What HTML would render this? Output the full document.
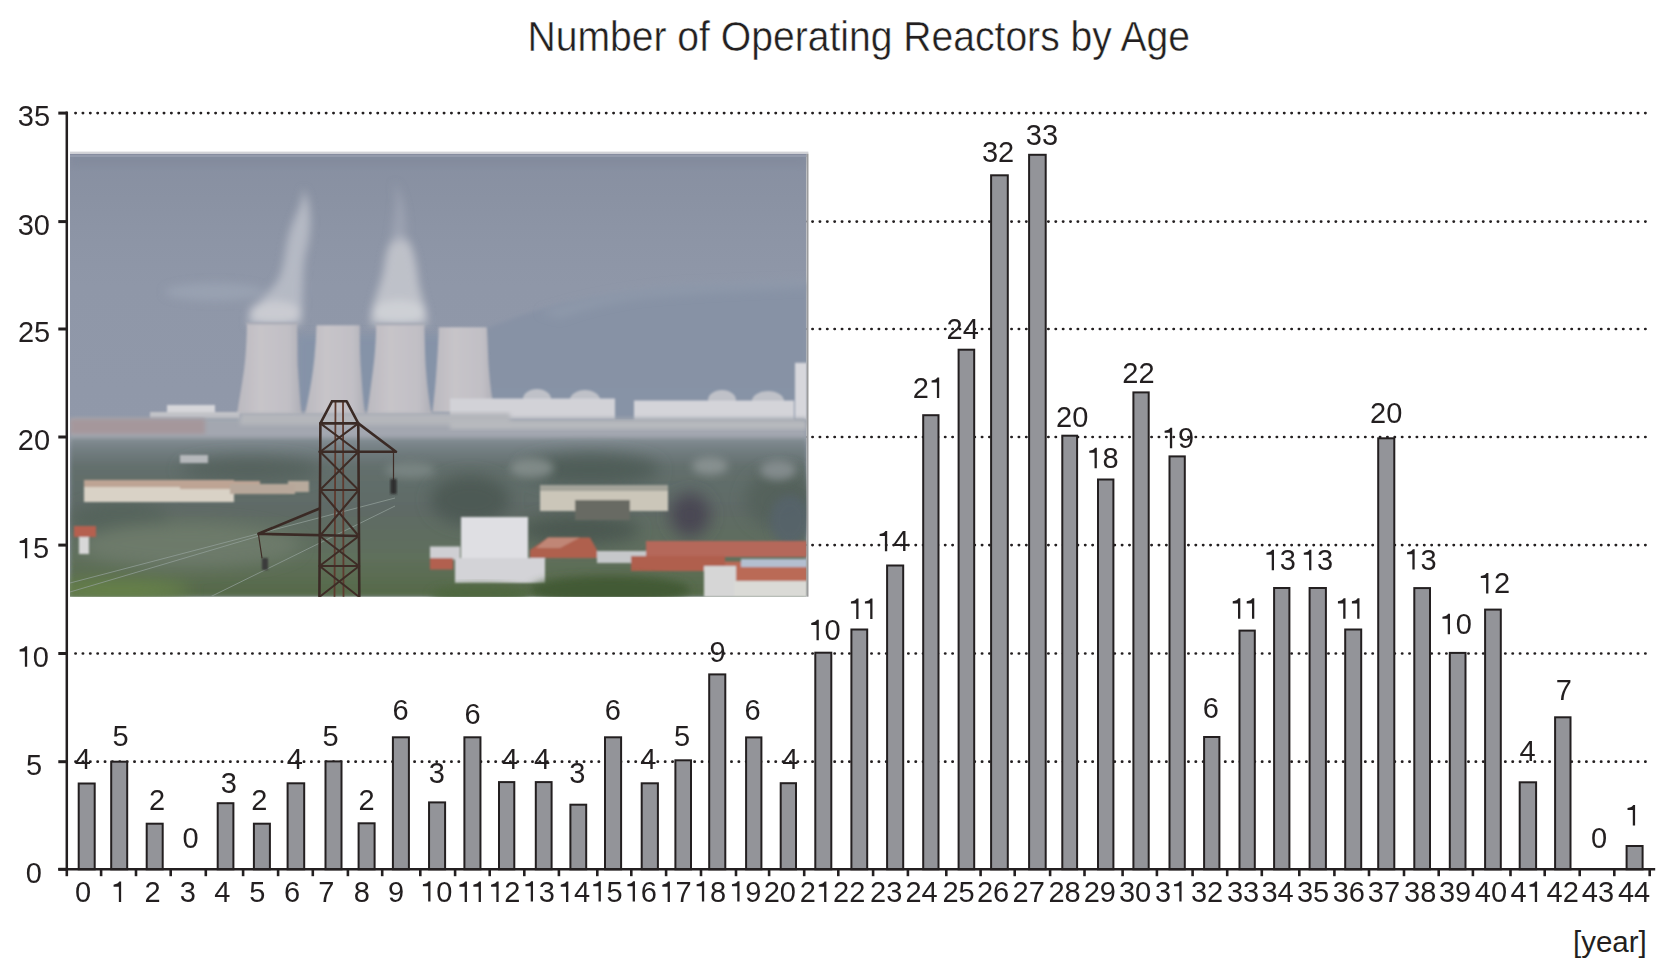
<!DOCTYPE html>
<html><head><meta charset="utf-8"><style>
html,body{margin:0;padding:0;background:#fff;width:1662px;height:961px;overflow:hidden}
svg{position:absolute;left:0;top:0;display:block}
text{font-family:"Liberation Sans",sans-serif;fill:#231f20}
</style></head><body>
<svg width="1662" height="961" viewBox="0 0 1662 961">
<text x="0" y="0" font-size="42" transform="translate(527.5 51.2) scale(0.9307 1)" stroke="#fff" stroke-width="0.45">Number of Operating Reactors by Age</text>
<line x1="75.45" y1="113.1" x2="1647" y2="113.1" stroke="#231f20" stroke-width="2.7" stroke-linecap="round" stroke-dasharray="0.25 7.12"/>
<line x1="75.45" y1="221.6" x2="1647" y2="221.6" stroke="#231f20" stroke-width="2.7" stroke-linecap="round" stroke-dasharray="0.25 7.12"/>
<line x1="75.45" y1="329.0" x2="1647" y2="329.0" stroke="#231f20" stroke-width="2.7" stroke-linecap="round" stroke-dasharray="0.25 7.12"/>
<line x1="75.45" y1="437.0" x2="1647" y2="437.0" stroke="#231f20" stroke-width="2.7" stroke-linecap="round" stroke-dasharray="0.25 7.12"/>
<line x1="75.45" y1="545.1" x2="1647" y2="545.1" stroke="#231f20" stroke-width="2.7" stroke-linecap="round" stroke-dasharray="0.25 7.12"/>
<line x1="75.45" y1="653.5" x2="1647" y2="653.5" stroke="#231f20" stroke-width="2.7" stroke-linecap="round" stroke-dasharray="0.25 7.12"/>
<line x1="75.45" y1="761.7" x2="1647" y2="761.7" stroke="#231f20" stroke-width="2.7" stroke-linecap="round" stroke-dasharray="0.25 7.12"/>
<defs>
<clipPath id="pc"><rect x="70" y="153.7" width="736.6" height="443"/></clipPath>
<linearGradient id="sky" x1="0" y1="0" x2="0" y2="1">
<stop offset="0" stop-color="#878fa1"/><stop offset="0.1" stop-color="#8a92a3"/><stop offset="0.2" stop-color="#8d95a6"/><stop offset="0.3" stop-color="#8f97a8"/><stop offset="1" stop-color="#929aab"/>
</linearGradient>
<linearGradient id="mtn" x1="0" y1="0" x2="0" y2="1">
<stop offset="0" stop-color="#8792a5"/><stop offset="1" stop-color="#8793a6"/>
</linearGradient>
<linearGradient id="tw" x1="0" y1="0" x2="1" y2="0">
<stop offset="0" stop-color="#bbb9bf"/><stop offset="0.35" stop-color="#c7c4c9"/><stop offset="0.8" stop-color="#c1bfc5"/><stop offset="1" stop-color="#afafb7"/>
</linearGradient>
<linearGradient id="trees" x1="0" y1="0" x2="0" y2="1">
<stop offset="0" stop-color="#838d94"/><stop offset="0.08" stop-color="#727d80"/><stop offset="0.18" stop-color="#636f6d"/><stop offset="0.45" stop-color="#5f6b66"/><stop offset="0.75" stop-color="#5f6f5c"/><stop offset="1" stop-color="#566a48"/>
</linearGradient>
<filter id="b1" x="-20%" y="-20%" width="140%" height="140%"><feGaussianBlur stdDeviation="1"/></filter>
<filter id="b2" x="-20%" y="-20%" width="140%" height="140%"><feGaussianBlur stdDeviation="2"/></filter>
<filter id="b4" x="-30%" y="-30%" width="160%" height="160%"><feGaussianBlur stdDeviation="4"/></filter>
<filter id="b8" x="-30%" y="-30%" width="160%" height="160%"><feGaussianBlur stdDeviation="8"/></filter>
</defs>
<g clip-path="url(#pc)">
<rect x="70" y="153.7" width="736.6" height="443" fill="url(#sky)"/>
<rect x="70" y="150" width="736.6" height="16" fill="#838b9d" filter="url(#b4)"/>
<!-- mountain right -->
<path d="M470 335 Q520 314 560 304 Q620 292 680 287 L807 284 L807 425 L470 425 Z" fill="url(#mtn)" filter="url(#b2)"/>
<!-- ridge haze -->
<path d="M540 312 Q600 292 680 285 L807 280 L807 288 Q700 292 640 298 Q590 306 560 318 Z" fill="#8e99aa" filter="url(#b4)"/>
<!-- left mid bg -->
<!-- cloud left -->
<!-- steam plumes -->
<g filter="url(#b4)">
<path d="M247 325 C252 305 268 295 278 280 C286 265 284 245 292 225 C298 210 304 200 303 188 C312 205 312 228 307 248 C301 268 304 295 301 325 Z" fill="#bcc0c9" opacity="0.85"/>
<path d="M371 325 C370 305 380 290 384 268 C386 250 390 238 400 234 C414 240 416 262 419 285 C423 302 428 314 427 325 Z" fill="#c3c5cc" opacity="0.9"/>
<path d="M391 242 C393 218 399 198 394 182 C404 196 408 222 405 242 Z" fill="#a2a8b6" opacity="0.7"/>
<ellipse cx="275" cy="313" rx="26" ry="12" fill="#cfd0d6" opacity="0.8"/>
<ellipse cx="399" cy="312" rx="27" ry="12" fill="#d2d3d8" opacity="0.8"/>
<ellipse cx="215" cy="292" rx="50" ry="9" fill="#9ca5b5" opacity="0.7"/>
</g>
<!-- dark gaps between towers (hills) -->
<rect x="296" y="335" width="150" height="75" fill="#8593a8" filter="url(#b4)"/>
<!-- towers -->
<g filter="url(#b1)">
<path d="M247 323.5 L297 323.5 C298 345 297 360 298 370 C299 385 300 400 301.5 414 L237 414 C239 400 242 385 244 370 C246 355 246.5 340 247 323.5 Z" fill="url(#tw)"/>
<path d="M316.5 325.2 L359.8 325.2 C360 345 360 358 361 370 C362 385 363 400 365 414 L305 414 C308 400 311 385 313 370 C315 355 316 340 316.5 325.2 Z" fill="url(#tw)"/>
<path d="M376.2 324.3 L424.3 324.3 C425 345 425 358 426 370 C427 385 429 400 431.5 414 L367 414 C369 400 371 385 373 370 C375 355 376 340 376.2 324.3 Z" fill="url(#tw)"/>
<path d="M438.7 327.2 L486.9 327.2 C488 345 488 358 489 370 C490 385 492 398 494.6 412 L432.5 412 C434 398 435.5 385 436.5 370 C437.5 355 438.5 340 438.7 327.2 Z" fill="url(#tw)"/>
<rect x="246" y="322.5" width="52" height="2" fill="#a9abb5"/>
<rect x="375" y="323.3" width="50" height="2" fill="#a9abb5"/>
</g>
<!-- domes -->
<g fill="#bfc1c8" filter="url(#b1)">
<ellipse cx="537" cy="399" rx="14" ry="10"/><ellipse cx="585" cy="400" rx="15" ry="10"/>
<ellipse cx="722" cy="400" rx="14" ry="10"/><ellipse cx="768" cy="401" rx="16" ry="10"/>
</g>
<!-- buildings strip -->
<g filter="url(#b1)">
<rect x="450" y="398.5" width="165" height="21.5" fill="#d2d2d7"/>
<rect x="634" y="400.5" width="160" height="21.5" fill="#d4d4d9"/>
<rect x="795" y="362.8" width="12" height="57" fill="#d7d7dc"/>
<rect x="167" y="405" width="48" height="13" fill="#d6d6da"/>
<rect x="150" y="412" width="90" height="7" fill="#c2c3c8"/>
</g>
<!-- ground haze band -->
<rect x="70" y="418" width="736.6" height="26" fill="#a3a7b0" filter="url(#b2)"/>
<rect x="70" y="419" width="135" height="15" fill="#a5979b" filter="url(#b2)"/>
<rect x="240" y="413" width="270" height="12" fill="#b4b6bb" filter="url(#b2)"/>
<rect x="450" y="421" width="356" height="8" fill="#b8babe" filter="url(#b2)"/>
<!-- trees -->
<rect x="70" y="438" width="736.6" height="159" fill="url(#trees)" filter="url(#b2)"/>
<g filter="url(#b8)">
<ellipse cx="690" cy="515" rx="20" ry="22" fill="#4a4652"/>
<ellipse cx="590" cy="470" rx="70" ry="16" fill="#505d58"/>
<ellipse cx="780" cy="500" rx="35" ry="30" fill="#55625c"/>
<ellipse cx="470" cy="500" rx="40" ry="25" fill="#4e5a55"/>
<ellipse cx="120" cy="520" rx="50" ry="18" fill="#55635b"/>
<ellipse cx="190" cy="545" rx="110" ry="22" fill="#6d7a6b"/>
<ellipse cx="580" cy="530" rx="60" ry="15" fill="#4b5851"/>
<ellipse cx="120" cy="590" rx="70" ry="10" fill="#67834a"/>
<ellipse cx="250" cy="470" rx="70" ry="12" fill="#55625d"/>
</g>
<g filter="url(#b4)" opacity="0.85">
<ellipse cx="532" cy="468" rx="22" ry="10" fill="#87918f"/>
<ellipse cx="710" cy="466" rx="18" ry="9" fill="#8e9696"/>
<ellipse cx="778" cy="470" rx="18" ry="10" fill="#8a9294"/>
<ellipse cx="790" cy="520" rx="20" ry="25" fill="#56636c"/>
<ellipse cx="410" cy="470" rx="25" ry="8" fill="#7d8886"/>
</g>
<rect x="288" y="481" width="21" height="11" fill="#b8aa9c" filter="url(#b1)"/>
<!-- houses left -->
<g filter="url(#b1)">
<rect x="84" y="480" width="150" height="7" fill="#bea494"/>
<rect x="84" y="487" width="150" height="15" fill="#d9d2c6"/>
<rect x="180" y="481" width="80" height="8" fill="#bea494"/>
<rect x="230" y="484" width="65" height="10" fill="#b7a79a"/>
<rect x="180" y="455" width="28" height="8" fill="#b5b8bb"/>
<rect x="74" y="526" width="22" height="11" fill="#b5604f"/>
<rect x="79" y="537" width="10" height="17" fill="#d8d8d8"/>
<!-- houses mid -->
<rect x="540" y="485" width="128" height="6" fill="#a3a39a"/>
<rect x="540" y="491" width="128" height="20" fill="#cbc6b9"/>
<rect x="575" y="500" width="55" height="20" fill="#676b63"/>
<!-- white building -->
<rect x="461" y="517" width="67" height="41" fill="#dfdfe3"/>
<rect x="430" y="546.5" width="30" height="13" fill="#cfcfd3"/>
<rect x="455" y="558" width="90" height="25" fill="#d3d3d7"/>
<rect x="597" y="551" width="50" height="12" fill="#c6c8ca"/>
<!-- red roofs -->
<path d="M530 550 L548 537.5 L590 537.5 L597 550 L597 558 L530 558 Z" fill="#af604e"/>
<path d="M548 537.5 L580 537.5 L560 548 L536 548 Z" fill="#c08676"/>
<rect x="646" y="541" width="161" height="16" fill="#b5675a"/>
<rect x="631" y="556" width="94" height="15" fill="#b05f4e"/>
<rect x="725" y="561.5" width="82" height="20" fill="#ba6a57"/>
<rect x="741" y="559" width="66" height="8" fill="#b4bfd0"/>
<rect x="704" y="566" width="32" height="31" fill="#d6d6d6"/>
<rect x="734" y="581" width="73" height="16" fill="#dadad6"/>
<rect x="430" y="558" width="23" height="11.5" fill="#b2604f"/>
</g>
<!-- bottom trees -->
<ellipse cx="610" cy="590" rx="80" ry="14" fill="#435a36" filter="url(#b4)"/>
<ellipse cx="480" cy="595" rx="50" ry="10" fill="#4f683f" filter="url(#b4)"/>
<!-- power lines -->
<g stroke="#93a09a" stroke-width="1" fill="none" opacity="0.75">
<path d="M70 583 L395 498"/><path d="M70 592 L259 536"/><path d="M210 597 L395 506"/>
</g>
<!-- pylon -->
<g fill="none" stroke-linecap="round" stroke-linejoin="round">
<path d="M335.5 401.3 L334.5 597 M343 401.3 L343.5 597" stroke="#5e3a2e" stroke-width="1.8"/>
<g stroke="#3a2a25" stroke-width="2.6">
<path d="M332 401.3 L346.7 401.3 L358.3 423.4 L359.3 597 M332 401.3 L320.4 423.4 L319.4 597"/>
<path d="M320.4 423.4 L358.3 423.4 L396 451.8 L319.6 451.8"/>
<path d="M258.4 533.8 L319.6 508.5 M258.4 533.8 L358.8 536"/>
</g>
<g stroke="#3e2c26" stroke-width="2">
<path d="M320.4 423.4 L358.3 451.8 M358.3 423.4 L320.2 451.8 M320.2 451.8 L358.5 490 M358.5 451.8 L320 490 M320 490 L358.7 536 M358.7 490 L319.8 536 M319.8 536 L359 566 M359 536 L319.6 566 M319.6 566 L359.2 597 M359.2 566 L319.4 597"/>
<path d="M320 490 L358.5 490 M319.6 566 L359 566"/>
<path d="M393.5 452 L393.5 480 M258.4 534 L262 558" stroke-width="1.2"/>
</g>
</g>
<rect x="390.5" y="479" width="6" height="15" fill="#2f2f2f" filter="url(#b1)"/>
<rect x="262" y="558" width="6" height="12" fill="#3a3a3a" filter="url(#b1)"/>
</g>
<rect x="70" y="153.7" width="736.6" height="1.3" fill="#868c9f"/>
<rect x="70" y="155" width="736.6" height="2" fill="#939aab"/>
<rect x="70" y="151.6" width="738.4" height="2.1" fill="#d2d3d7"/>
<rect x="806.6" y="153.7" width="1.9" height="443" fill="#9b9b9c"/>

<rect x="78.70" y="783.50" width="16.00" height="85.80" fill="#939499" stroke="#231f20" stroke-width="2.0"/>
<rect x="111.20" y="761.70" width="16.00" height="107.60" fill="#939499" stroke="#231f20" stroke-width="2.0"/>
<rect x="146.70" y="823.70" width="16.00" height="45.60" fill="#939499" stroke="#231f20" stroke-width="2.0"/>
<rect x="217.70" y="803.20" width="15.70" height="66.10" fill="#939499" stroke="#231f20" stroke-width="2.0"/>
<rect x="253.90" y="823.70" width="16.00" height="45.60" fill="#939499" stroke="#231f20" stroke-width="2.0"/>
<rect x="287.60" y="783.30" width="16.60" height="86.00" fill="#939499" stroke="#231f20" stroke-width="2.0"/>
<rect x="325.50" y="761.40" width="16.00" height="107.90" fill="#939499" stroke="#231f20" stroke-width="2.0"/>
<rect x="358.60" y="823.30" width="16.00" height="46.00" fill="#939499" stroke="#231f20" stroke-width="2.0"/>
<rect x="392.90" y="737.30" width="16.00" height="132.00" fill="#939499" stroke="#231f20" stroke-width="2.0"/>
<rect x="429.05" y="802.40" width="16.05" height="66.90" fill="#939499" stroke="#231f20" stroke-width="2.0"/>
<rect x="464.40" y="737.30" width="16.05" height="132.00" fill="#939499" stroke="#231f20" stroke-width="2.0"/>
<rect x="499.00" y="782.10" width="15.30" height="87.20" fill="#939499" stroke="#231f20" stroke-width="2.0"/>
<rect x="535.80" y="782.10" width="15.80" height="87.20" fill="#939499" stroke="#231f20" stroke-width="2.0"/>
<rect x="570.40" y="804.70" width="15.80" height="64.60" fill="#939499" stroke="#231f20" stroke-width="2.0"/>
<rect x="605.00" y="737.30" width="16.10" height="132.00" fill="#939499" stroke="#231f20" stroke-width="2.0"/>
<rect x="641.70" y="783.30" width="16.20" height="86.00" fill="#939499" stroke="#231f20" stroke-width="2.0"/>
<rect x="675.40" y="760.30" width="15.60" height="109.00" fill="#939499" stroke="#231f20" stroke-width="2.0"/>
<rect x="709.20" y="674.40" width="16.10" height="194.90" fill="#939499" stroke="#231f20" stroke-width="2.0"/>
<rect x="746.10" y="737.40" width="15.30" height="131.90" fill="#939499" stroke="#231f20" stroke-width="2.0"/>
<rect x="780.70" y="783.20" width="15.30" height="86.10" fill="#939499" stroke="#231f20" stroke-width="2.0"/>
<rect x="815.30" y="652.70" width="16.00" height="216.60" fill="#939499" stroke="#231f20" stroke-width="2.0"/>
<rect x="851.40" y="629.50" width="15.80" height="239.80" fill="#939499" stroke="#231f20" stroke-width="2.0"/>
<rect x="887.10" y="565.50" width="16.10" height="303.80" fill="#939499" stroke="#231f20" stroke-width="2.0"/>
<rect x="923.20" y="415.20" width="15.30" height="454.10" fill="#939499" stroke="#231f20" stroke-width="2.0"/>
<rect x="958.60" y="349.70" width="15.60" height="519.60" fill="#939499" stroke="#231f20" stroke-width="2.0"/>
<rect x="991.10" y="175.30" width="16.70" height="694.00" fill="#939499" stroke="#231f20" stroke-width="2.0"/>
<rect x="1029.10" y="154.80" width="16.60" height="714.50" fill="#939499" stroke="#231f20" stroke-width="2.0"/>
<rect x="1062.30" y="435.70" width="14.80" height="433.60" fill="#939499" stroke="#231f20" stroke-width="2.0"/>
<rect x="1098.00" y="479.50" width="15.40" height="389.80" fill="#939499" stroke="#231f20" stroke-width="2.0"/>
<rect x="1133.40" y="392.40" width="15.30" height="476.90" fill="#939499" stroke="#231f20" stroke-width="2.0"/>
<rect x="1169.50" y="456.40" width="15.30" height="412.90" fill="#939499" stroke="#231f20" stroke-width="2.0"/>
<rect x="1204.10" y="737.00" width="15.30" height="132.30" fill="#939499" stroke="#231f20" stroke-width="2.0"/>
<rect x="1239.50" y="630.60" width="15.30" height="238.70" fill="#939499" stroke="#231f20" stroke-width="2.0"/>
<rect x="1274.10" y="588.00" width="15.30" height="281.30" fill="#939499" stroke="#231f20" stroke-width="2.0"/>
<rect x="1309.60" y="588.00" width="16.30" height="281.30" fill="#939499" stroke="#231f20" stroke-width="2.0"/>
<rect x="1345.20" y="629.50" width="16.00" height="239.80" fill="#939499" stroke="#231f20" stroke-width="2.0"/>
<rect x="1378.20" y="438.30" width="16.10" height="431.00" fill="#939499" stroke="#231f20" stroke-width="2.0"/>
<rect x="1414.30" y="588.10" width="15.70" height="281.20" fill="#939499" stroke="#231f20" stroke-width="2.0"/>
<rect x="1449.80" y="652.90" width="15.70" height="216.40" fill="#939499" stroke="#231f20" stroke-width="2.0"/>
<rect x="1485.10" y="609.60" width="15.70" height="259.70" fill="#939499" stroke="#231f20" stroke-width="2.0"/>
<rect x="1519.70" y="782.30" width="16.40" height="87.00" fill="#939499" stroke="#231f20" stroke-width="2.0"/>
<rect x="1555.10" y="717.30" width="15.40" height="152.00" fill="#939499" stroke="#231f20" stroke-width="2.0"/>
<rect x="1626.60" y="846.00" width="16.00" height="23.30" fill="#939499" stroke="#231f20" stroke-width="2.0"/>
<line x1="66.8" y1="111.6" x2="66.8" y2="870.5" stroke="#231f20" stroke-width="2.5"/>
<line x1="58.3" y1="869.3" x2="1655.2" y2="869.3" stroke="#231f20" stroke-width="2.5"/>
<line x1="58.3" y1="113.1" x2="67" y2="113.1" stroke="#231f20" stroke-width="3"/>
<line x1="58.3" y1="221.6" x2="67" y2="221.6" stroke="#231f20" stroke-width="3"/>
<line x1="58.3" y1="329.0" x2="67" y2="329.0" stroke="#231f20" stroke-width="3"/>
<line x1="58.3" y1="437.0" x2="67" y2="437.0" stroke="#231f20" stroke-width="3"/>
<line x1="58.3" y1="545.1" x2="67" y2="545.1" stroke="#231f20" stroke-width="3"/>
<line x1="58.3" y1="653.5" x2="67" y2="653.5" stroke="#231f20" stroke-width="3"/>
<line x1="58.3" y1="761.7" x2="67" y2="761.7" stroke="#231f20" stroke-width="3"/>
<line x1="58.3" y1="869.3" x2="67" y2="869.3" stroke="#231f20" stroke-width="3"/>
<line x1="66.8" y1="869" x2="66.8" y2="876.2" stroke="#231f20" stroke-width="2.6"/>
<line x1="101.1" y1="869" x2="101.1" y2="876.2" stroke="#231f20" stroke-width="2.6"/>
<line x1="136.0" y1="869" x2="136.0" y2="876.2" stroke="#231f20" stroke-width="2.6"/>
<line x1="170.7" y1="869" x2="170.7" y2="876.2" stroke="#231f20" stroke-width="2.6"/>
<line x1="205.8" y1="869" x2="205.8" y2="876.2" stroke="#231f20" stroke-width="2.6"/>
<line x1="243.1" y1="869" x2="243.1" y2="876.2" stroke="#231f20" stroke-width="2.6"/>
<line x1="278.1" y1="869" x2="278.1" y2="876.2" stroke="#231f20" stroke-width="2.6"/>
<line x1="312.8" y1="869" x2="312.8" y2="876.2" stroke="#231f20" stroke-width="2.6"/>
<line x1="347.9" y1="869" x2="347.9" y2="876.2" stroke="#231f20" stroke-width="2.6"/>
<line x1="382.2" y1="869" x2="382.2" y2="876.2" stroke="#231f20" stroke-width="2.6"/>
<line x1="420.3" y1="869" x2="420.3" y2="876.2" stroke="#231f20" stroke-width="2.6"/>
<line x1="455.1" y1="869" x2="455.1" y2="876.2" stroke="#231f20" stroke-width="2.6"/>
<line x1="489.7" y1="869" x2="489.7" y2="876.2" stroke="#231f20" stroke-width="2.6"/>
<line x1="524.3" y1="869" x2="524.3" y2="876.2" stroke="#231f20" stroke-width="2.6"/>
<line x1="558.9" y1="869" x2="558.9" y2="876.2" stroke="#231f20" stroke-width="2.6"/>
<line x1="597.3" y1="869" x2="597.3" y2="876.2" stroke="#231f20" stroke-width="2.6"/>
<line x1="631.3" y1="869" x2="631.3" y2="876.2" stroke="#231f20" stroke-width="2.6"/>
<line x1="666.1" y1="869" x2="666.1" y2="876.2" stroke="#231f20" stroke-width="2.6"/>
<line x1="701.0" y1="869" x2="701.0" y2="876.2" stroke="#231f20" stroke-width="2.6"/>
<line x1="736.0" y1="869" x2="736.0" y2="876.2" stroke="#231f20" stroke-width="2.6"/>
<line x1="769.1" y1="869" x2="769.1" y2="876.2" stroke="#231f20" stroke-width="2.6"/>
<line x1="804.2" y1="869" x2="804.2" y2="876.2" stroke="#231f20" stroke-width="2.6"/>
<line x1="838.3" y1="869" x2="838.3" y2="876.2" stroke="#231f20" stroke-width="2.6"/>
<line x1="873.1" y1="869" x2="873.1" y2="876.2" stroke="#231f20" stroke-width="2.6"/>
<line x1="907.9" y1="869" x2="907.9" y2="876.2" stroke="#231f20" stroke-width="2.6"/>
<line x1="946.3" y1="869" x2="946.3" y2="876.2" stroke="#231f20" stroke-width="2.6"/>
<line x1="980.6" y1="869" x2="980.6" y2="876.2" stroke="#231f20" stroke-width="2.6"/>
<line x1="1014.7" y1="869" x2="1014.7" y2="876.2" stroke="#231f20" stroke-width="2.6"/>
<line x1="1050.1" y1="869" x2="1050.1" y2="876.2" stroke="#231f20" stroke-width="2.6"/>
<line x1="1084.5" y1="869" x2="1084.5" y2="876.2" stroke="#231f20" stroke-width="2.6"/>
<line x1="1122.6" y1="869" x2="1122.6" y2="876.2" stroke="#231f20" stroke-width="2.6"/>
<line x1="1156.9" y1="869" x2="1156.9" y2="876.2" stroke="#231f20" stroke-width="2.6"/>
<line x1="1192.6" y1="869" x2="1192.6" y2="876.2" stroke="#231f20" stroke-width="2.6"/>
<line x1="1227.2" y1="869" x2="1227.2" y2="876.2" stroke="#231f20" stroke-width="2.6"/>
<line x1="1261.8" y1="869" x2="1261.8" y2="876.2" stroke="#231f20" stroke-width="2.6"/>
<line x1="1299.3" y1="869" x2="1299.3" y2="876.2" stroke="#231f20" stroke-width="2.6"/>
<line x1="1334.4" y1="869" x2="1334.4" y2="876.2" stroke="#231f20" stroke-width="2.6"/>
<line x1="1369.0" y1="869" x2="1369.0" y2="876.2" stroke="#231f20" stroke-width="2.6"/>
<line x1="1404.0" y1="869" x2="1404.0" y2="876.2" stroke="#231f20" stroke-width="2.6"/>
<line x1="1438.7" y1="869" x2="1438.7" y2="876.2" stroke="#231f20" stroke-width="2.6"/>
<line x1="1472.9" y1="869" x2="1472.9" y2="876.2" stroke="#231f20" stroke-width="2.6"/>
<line x1="1510.5" y1="869" x2="1510.5" y2="876.2" stroke="#231f20" stroke-width="2.6"/>
<line x1="1544.7" y1="869" x2="1544.7" y2="876.2" stroke="#231f20" stroke-width="2.6"/>
<line x1="1579.7" y1="869" x2="1579.7" y2="876.2" stroke="#231f20" stroke-width="2.6"/>
<line x1="1614.3" y1="869" x2="1614.3" y2="876.2" stroke="#231f20" stroke-width="2.6"/>
<line x1="1649.7" y1="869" x2="1649.7" y2="876.2" stroke="#231f20" stroke-width="2.6"/>
<text x="17.79" y="126.35" font-size="29">3</text><text x="33.92" y="126.35" font-size="29">5</text>
<text x="17.72" y="234.85" font-size="29">3</text><text x="33.84" y="234.85" font-size="29">0</text>
<text x="17.91" y="342.25" font-size="29">2</text><text x="34.03" y="342.25" font-size="29">5</text>
<text x="17.84" y="450.25" font-size="29">2</text><text x="33.96" y="450.25" font-size="29">0</text>
<path d="M359 0 L359 703 L296 703 Q258 620 98 598 L98 527 L280 527 L280 0 Z" transform="translate(16.82 558.35) scale(0.02900 -0.02900)" fill="#231f20"/><text x="32.94" y="558.35" font-size="29">5</text>
<path d="M359 0 L359 703 L296 703 Q258 620 98 598 L98 527 L280 527 L280 0 Z" transform="translate(16.75 666.75) scale(0.02900 -0.02900)" fill="#231f20"/><text x="32.87" y="666.75" font-size="29">0</text>
<text x="25.88" y="774.95" font-size="29">5</text>
<text x="25.74" y="882.55" font-size="29">0</text>
<text x="75.04" y="901.55" font-size="29">0</text>
<path d="M359 0 L359 703 L296 703 Q258 620 98 598 L98 527 L280 527 L280 0 Z" transform="translate(110.73 902.00) scale(0.02900 -0.02900)" fill="#231f20"/>
<text x="144.57" y="902.00" font-size="29">2</text>
<text x="179.74" y="901.55" font-size="29">3</text>
<text x="214.15" y="902.00" font-size="29">4</text>
<text x="249.18" y="901.55" font-size="29">5</text>
<text x="283.94" y="901.55" font-size="29">6</text>
<text x="318.18" y="902.00" font-size="29">7</text>
<text x="353.75" y="901.55" font-size="29">8</text>
<text x="387.94" y="901.55" font-size="29">9</text>
<path d="M359 0 L359 703 L296 703 Q258 620 98 598 L98 527 L280 527 L280 0 Z" transform="translate(420.05 901.55) scale(0.02900 -0.02900)" fill="#231f20"/><text x="436.17" y="901.55" font-size="29">0</text>
<path d="M359 0 L359 703 L296 703 Q258 620 98 598 L98 527 L280 527 L280 0 Z" transform="translate(456.54 902.00) scale(0.02900 -0.02900)" fill="#231f20"/><path d="M359 0 L359 703 L296 703 Q258 620 98 598 L98 527 L280 527 L280 0 Z" transform="translate(470.52 902.00) scale(0.02900 -0.02900)" fill="#231f20"/>
<path d="M359 0 L359 703 L296 703 Q258 620 98 598 L98 527 L280 527 L280 0 Z" transform="translate(488.22 902.00) scale(0.02900 -0.02900)" fill="#231f20"/><text x="504.35" y="902.00" font-size="29">2</text>
<path d="M359 0 L359 703 L296 703 Q258 620 98 598 L98 527 L280 527 L280 0 Z" transform="translate(522.60 901.55) scale(0.02900 -0.02900)" fill="#231f20"/><text x="538.73" y="901.55" font-size="29">3</text>
<path d="M359 0 L359 703 L296 703 Q258 620 98 598 L98 527 L280 527 L280 0 Z" transform="translate(557.89 902.00) scale(0.02900 -0.02900)" fill="#231f20"/><text x="574.01" y="902.00" font-size="29">4</text>
<path d="M359 0 L359 703 L296 703 Q258 620 98 598 L98 527 L280 527 L280 0 Z" transform="translate(590.42 901.55) scale(0.02900 -0.02900)" fill="#231f20"/><text x="606.54" y="901.55" font-size="29">5</text>
<path d="M359 0 L359 703 L296 703 Q258 620 98 598 L98 527 L280 527 L280 0 Z" transform="translate(624.56 901.55) scale(0.02900 -0.02900)" fill="#231f20"/><text x="640.69" y="901.55" font-size="29">6</text>
<path d="M359 0 L359 703 L296 703 Q258 620 98 598 L98 527 L280 527 L280 0 Z" transform="translate(659.49 902.00) scale(0.02900 -0.02900)" fill="#231f20"/><text x="675.61" y="902.00" font-size="29">7</text>
<path d="M359 0 L359 703 L296 703 Q258 620 98 598 L98 527 L280 527 L280 0 Z" transform="translate(693.78 901.55) scale(0.02900 -0.02900)" fill="#231f20"/><text x="709.90" y="901.55" font-size="29">8</text>
<path d="M359 0 L359 703 L296 703 Q258 620 98 598 L98 527 L280 527 L280 0 Z" transform="translate(729.12 901.55) scale(0.02900 -0.02900)" fill="#231f20"/><text x="745.24" y="901.55" font-size="29">9</text>
<text x="763.74" y="901.55" font-size="29">2</text><text x="779.86" y="901.55" font-size="29">0</text>
<text x="799.86" y="902.00" font-size="29">2</text><path d="M359 0 L359 703 L296 703 Q258 620 98 598 L98 527 L280 527 L280 0 Z" transform="translate(815.98 902.00) scale(0.02900 -0.02900)" fill="#231f20"/>
<text x="833.11" y="902.00" font-size="29">2</text><text x="849.23" y="902.00" font-size="29">2</text>
<text x="870.09" y="901.55" font-size="29">2</text><text x="886.22" y="901.55" font-size="29">3</text>
<text x="905.48" y="902.00" font-size="29">2</text><text x="921.60" y="902.00" font-size="29">4</text>
<text x="942.41" y="901.55" font-size="29">2</text><text x="958.53" y="901.55" font-size="29">5</text>
<text x="976.95" y="901.55" font-size="29">2</text><text x="993.07" y="901.55" font-size="29">6</text>
<text x="1012.58" y="902.00" font-size="29">2</text><text x="1028.70" y="902.00" font-size="29">7</text>
<text x="1048.46" y="901.55" font-size="29">2</text><text x="1064.59" y="901.55" font-size="29">8</text>
<text x="1083.71" y="901.55" font-size="29">2</text><text x="1099.83" y="901.55" font-size="29">9</text>
<text x="1118.92" y="901.55" font-size="29">3</text><text x="1135.04" y="901.55" font-size="29">0</text>
<text x="1155.04" y="901.55" font-size="29">3</text><path d="M359 0 L359 703 L296 703 Q258 620 98 598 L98 527 L280 527 L280 0 Z" transform="translate(1171.16 901.55) scale(0.02900 -0.02900)" fill="#231f20"/>
<text x="1190.99" y="901.55" font-size="29">3</text><text x="1207.12" y="901.55" font-size="29">2</text>
<text x="1226.88" y="901.55" font-size="29">3</text><text x="1243.00" y="901.55" font-size="29">3</text>
<text x="1261.46" y="901.55" font-size="29">3</text><text x="1277.59" y="901.55" font-size="29">4</text>
<text x="1296.89" y="901.55" font-size="29">3</text><text x="1313.02" y="901.55" font-size="29">5</text>
<text x="1332.63" y="901.55" font-size="29">3</text><text x="1348.76" y="901.55" font-size="29">6</text>
<text x="1367.86" y="901.55" font-size="29">3</text><text x="1383.99" y="901.55" font-size="29">7</text>
<text x="1404.05" y="901.55" font-size="29">3</text><text x="1420.17" y="901.55" font-size="29">8</text>
<text x="1438.99" y="901.55" font-size="29">3</text><text x="1455.12" y="901.55" font-size="29">9</text>
<text x="1474.85" y="901.55" font-size="29">4</text><text x="1490.97" y="901.55" font-size="29">0</text>
<text x="1510.57" y="902.00" font-size="29">4</text><path d="M359 0 L359 703 L296 703 Q258 620 98 598 L98 527 L280 527 L280 0 Z" transform="translate(1526.69 902.00) scale(0.02900 -0.02900)" fill="#231f20"/>
<text x="1546.62" y="902.00" font-size="29">4</text><text x="1562.75" y="902.00" font-size="29">2</text>
<text x="1581.81" y="901.55" font-size="29">4</text><text x="1597.93" y="901.55" font-size="29">3</text>
<text x="1617.89" y="902.00" font-size="29">4</text><text x="1634.02" y="902.00" font-size="29">4</text>
<text x="74.80" y="769.10" font-size="29">4</text>
<text x="112.38" y="746.45" font-size="29">5</text>
<text x="148.92" y="809.60" font-size="29">2</text>
<text x="182.44" y="848.05" font-size="29">0</text>
<text x="220.84" y="792.75" font-size="29">3</text>
<text x="251.22" y="809.60" font-size="29">2</text>
<text x="286.80" y="768.70" font-size="29">4</text>
<text x="322.38" y="746.45" font-size="29">5</text>
<text x="358.62" y="809.90" font-size="29">2</text>
<text x="392.54" y="719.65" font-size="29">6</text>
<text x="428.64" y="783.25" font-size="29">3</text>
<text x="464.39" y="724.05" font-size="29">6</text>
<text x="502.10" y="768.70" font-size="29">4</text>
<text x="533.90" y="768.70" font-size="29">4</text>
<text x="569.19" y="783.25" font-size="29">3</text>
<text x="604.74" y="719.65" font-size="29">6</text>
<text x="640.20" y="768.70" font-size="29">4</text>
<text x="674.08" y="746.45" font-size="29">5</text>
<text x="709.44" y="661.95" font-size="29">9</text>
<text x="744.44" y="719.65" font-size="29">6</text>
<text x="782.20" y="768.90" font-size="29">4</text>
<path d="M359 0 L359 703 L296 703 Q258 620 98 598 L98 527 L280 527 L280 0 Z" transform="translate(808.40 640.25) scale(0.02900 -0.02900)" fill="#231f20"/><text x="824.52" y="640.25" font-size="29">0</text>
<path d="M359 0 L359 703 L296 703 Q258 620 98 598 L98 527 L280 527 L280 0 Z" transform="translate(848.09 618.90) scale(0.02900 -0.02900)" fill="#231f20"/><path d="M359 0 L359 703 L296 703 Q258 620 98 598 L98 527 L280 527 L280 0 Z" transform="translate(862.07 618.90) scale(0.02900 -0.02900)" fill="#231f20"/>
<path d="M359 0 L359 703 L296 703 Q258 620 98 598 L98 527 L280 527 L280 0 Z" transform="translate(876.79 551.30) scale(0.02900 -0.02900)" fill="#231f20"/><text x="892.91" y="551.30" font-size="29">4</text>
<text x="912.66" y="397.90" font-size="29">2</text><path d="M359 0 L359 703 L296 703 Q258 620 98 598 L98 527 L280 527 L280 0 Z" transform="translate(928.78 397.90) scale(0.02900 -0.02900)" fill="#231f20"/>
<text x="946.53" y="339.20" font-size="29">2</text><text x="962.65" y="339.20" font-size="29">4</text>
<text x="981.89" y="162.15" font-size="29">3</text><text x="998.02" y="162.15" font-size="29">2</text>
<text x="1025.83" y="144.65" font-size="29">3</text><text x="1041.95" y="144.65" font-size="29">3</text>
<text x="1056.04" y="427.25" font-size="29">2</text><text x="1072.16" y="427.25" font-size="29">0</text>
<path d="M359 0 L359 703 L296 703 Q258 620 98 598 L98 527 L280 527 L280 0 Z" transform="translate(1086.43 468.15) scale(0.02900 -0.02900)" fill="#231f20"/><text x="1102.55" y="468.15" font-size="29">8</text>
<text x="1122.36" y="383.10" font-size="29">2</text><text x="1138.48" y="383.10" font-size="29">2</text>
<path d="M359 0 L359 703 L296 703 Q258 620 98 598 L98 527 L280 527 L280 0 Z" transform="translate(1161.77 448.15) scale(0.02900 -0.02900)" fill="#231f20"/><text x="1177.89" y="448.15" font-size="29">9</text>
<text x="1202.69" y="718.35" font-size="29">6</text>
<path d="M359 0 L359 703 L296 703 Q258 620 98 598 L98 527 L280 527 L280 0 Z" transform="translate(1229.89 618.70) scale(0.02900 -0.02900)" fill="#231f20"/><path d="M359 0 L359 703 L296 703 Q258 620 98 598 L98 527 L280 527 L280 0 Z" transform="translate(1243.87 618.70) scale(0.02900 -0.02900)" fill="#231f20"/>
<path d="M359 0 L359 703 L296 703 Q258 620 98 598 L98 527 L280 527 L280 0 Z" transform="translate(1263.60 570.15) scale(0.02900 -0.02900)" fill="#231f20"/><text x="1279.73" y="570.15" font-size="29">3</text>
<path d="M359 0 L359 703 L296 703 Q258 620 98 598 L98 527 L280 527 L280 0 Z" transform="translate(1300.95 570.15) scale(0.02900 -0.02900)" fill="#231f20"/><text x="1317.08" y="570.15" font-size="29">3</text>
<path d="M359 0 L359 703 L296 703 Q258 620 98 598 L98 527 L280 527 L280 0 Z" transform="translate(1335.09 618.70) scale(0.02900 -0.02900)" fill="#231f20"/><path d="M359 0 L359 703 L296 703 Q258 620 98 598 L98 527 L280 527 L280 0 Z" transform="translate(1349.07 618.70) scale(0.02900 -0.02900)" fill="#231f20"/>
<text x="1370.04" y="422.85" font-size="29">2</text><text x="1386.16" y="422.85" font-size="29">0</text>
<path d="M359 0 L359 703 L296 703 Q258 620 98 598 L98 527 L280 527 L280 0 Z" transform="translate(1404.25 569.55) scale(0.02900 -0.02900)" fill="#231f20"/><text x="1420.38" y="569.55" font-size="29">3</text>
<path d="M359 0 L359 703 L296 703 Q258 620 98 598 L98 527 L280 527 L280 0 Z" transform="translate(1439.60 634.15) scale(0.02900 -0.02900)" fill="#231f20"/><text x="1455.72" y="634.15" font-size="29">0</text>
<path d="M359 0 L359 703 L296 703 Q258 620 98 598 L98 527 L280 527 L280 0 Z" transform="translate(1477.97 593.40) scale(0.02900 -0.02900)" fill="#231f20"/><text x="1494.10" y="593.40" font-size="29">2</text>
<text x="1519.40" y="761.30" font-size="29">4</text>
<text x="1555.73" y="699.50" font-size="29">7</text>
<text x="1590.89" y="848.35" font-size="29">0</text>
<path d="M359 0 L359 703 L296 703 Q258 620 98 598 L98 527 L280 527 L280 0 Z" transform="translate(1624.68 825.40) scale(0.02900 -0.02900)" fill="#231f20"/>
<text x="1573" y="952.3" font-size="29.5">[year]</text>
</svg>
</body></html>
